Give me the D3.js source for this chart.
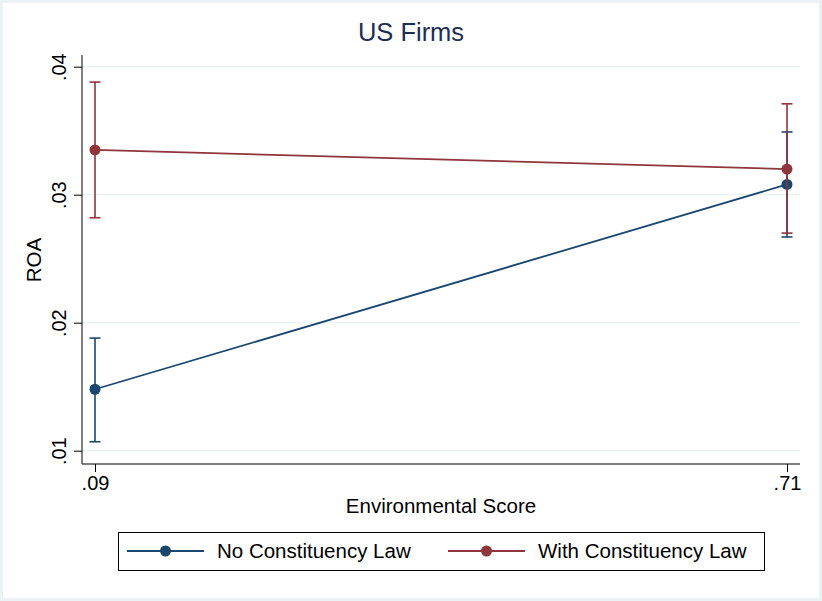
<!DOCTYPE html>
<html>
<head>
<meta charset="utf-8">
<script src="https://cdn.jsdelivr.net/npm/d3@7"></script>
<style>
  body { margin: 0; background: #fff; }
  text { font-family: "Liberation Sans", Arial, sans-serif; }
</style>
</head>
<body>
<div id="chart"></div>
<script>
// Data
const xValues = [0.09, 0.71];
const xTickLabels = [".09", ".71"];
const yTicks = [0.01, 0.02, 0.03, 0.04];
const yTickLabels = [".01", ".02", ".03", ".04"];
const seriesNames = ["No Constituency Law", "With Constituency Law"];
const noLawMean = [0.0148, 0.0308];
const noLawLow = [0.0107, 0.0267];
const noLawHigh = [0.0188, 0.0349];
const withLawMean = [0.0335, 0.0320];
const withLawLow = [0.0282, 0.0270];
const withLawHigh = [0.0388, 0.0371];
const colors = ["#1a476f", "#90353b"];

const width = 822, height = 601;

const svg = d3.select("#chart")
    .append("svg")
    .attr("width", width)
    .attr("height", height);

// Outer frame
svg.append("rect")
    .attr("x", 1.5).attr("y", 1.5)
    .attr("width", width - 3).attr("height", height - 3)
    .attr("fill", "#fff")
    .attr("stroke", "#eaf2f3")
    .attr("stroke-width", 3);

// Scales
const xScale = d3.scaleLinear().domain([0.09, 0.71]).range([95, 787]);
const yScale = d3.scaleLinear().domain([0.01, 0.04]).range([450.7, 66.7]);
const plotLeft = 82, plotRight = 800, plotTop = 55, plotBottom = 464;

// Gridlines
svg.append("g")
    .selectAll("line")
    .data(yTicks)
    .enter()
    .append("line")
    .attr("x1", plotLeft + 1)
    .attr("x2", plotRight)
    .attr("y1", d => yScale(d))
    .attr("y2", d => yScale(d))
    .attr("stroke", "#eaf2f3")
    .attr("stroke-width", 1.2);

// Y axis
const yAxis = d3.axisLeft(yScale)
    .tickValues(yTicks)
    .tickFormat((d, i) => yTickLabels[i])
    .tickSize(8)
    .tickSizeOuter(0);

const yG = svg.append("g")
    .attr("transform", "translate(" + plotLeft + ",0)")
    .call(yAxis);
yG.select(".domain").remove();
yG.append("line")
    .attr("x1", 0).attr("x2", 0)
    .attr("y1", plotTop).attr("y2", plotBottom)
    .attr("stroke", "#000");
yG.selectAll(".tick line").attr("stroke", "#000");
yG.selectAll(".tick text")
    .attr("fill", "#000")
    .style("font-size", "20px")
    .attr("text-anchor", "middle")
    .attr("x", 0)
    .attr("y", 0)
    .attr("dy", 0)
    .attr("transform", "translate(-16,0) rotate(-90)");

// X axis
const xAxis = d3.axisBottom(xScale)
    .tickValues(xValues)
    .tickFormat((d, i) => xTickLabels[i])
    .tickSize(8)
    .tickSizeOuter(0);

const xG = svg.append("g")
    .attr("transform", "translate(0," + plotBottom + ")")
    .call(xAxis);
xG.select(".domain").remove();
xG.append("line")
    .attr("x1", plotLeft).attr("x2", plotRight)
    .attr("y1", 0).attr("y2", 0)
    .attr("stroke", "#000");
xG.selectAll(".tick line").attr("stroke", "#000");
xG.selectAll(".tick text")
    .attr("fill", "#000")
    .style("font-size", "20px")
    .attr("y", 12);

// Axis titles
svg.append("text")
    .attr("text-anchor", "middle")
    .attr("x", 441)
    .attr("y", 513)
    .style("font-size", "20.5px")
    .text("Environmental Score");

svg.append("text")
    .attr("text-anchor", "middle")
    .attr("transform", "translate(41,260) rotate(-90)")
    .style("font-size", "20.5px")
    .text("ROA");

// Title
svg.append("text")
    .attr("text-anchor", "middle")
    .attr("x", 411)
    .attr("y", 41)
    .attr("fill", "#1e2d53")
    .style("font-size", "25.5px")
    .text("US Firms");

// Series
const series = [
    { mean: noLawMean, low: noLawLow, high: noLawHigh, color: colors[0] },
    { mean: withLawMean, low: withLawLow, high: withLawHigh, color: colors[1] }
];

const line = d3.line()
    .x(d => xScale(d.x))
    .y(d => yScale(d.y));

series.forEach(s => {
    const pts = xValues.map((x, i) => ({ x: x, y: s.mean[i], lo: s.low[i], hi: s.high[i] }));
    const g = svg.append("g");

    // Error bars
    g.selectAll(".ci")
        .data(pts)
        .enter()
        .append("line")
        .attr("x1", d => xScale(d.x)).attr("x2", d => xScale(d.x))
        .attr("y1", d => yScale(d.lo)).attr("y2", d => yScale(d.hi))
        .attr("stroke", s.color)
        .attr("stroke-width", 1.6);

    ["lo", "hi"].forEach(k => {
        g.selectAll(".cap-" + k)
            .data(pts)
            .enter()
            .append("line")
            .attr("x1", d => xScale(d.x) - 5.5).attr("x2", d => xScale(d.x) + 5.5)
            .attr("y1", d => yScale(d[k])).attr("y2", d => yScale(d[k]))
            .attr("stroke", s.color)
            .attr("stroke-width", 1.6);
    });

    g.append("path")
        .datum(pts)
        .attr("d", line)
        .attr("fill", "none")
        .attr("stroke", s.color)
        .attr("stroke-width", 1.8);

    g.selectAll("circle")
        .data(pts)
        .enter()
        .append("circle")
        .attr("cx", d => xScale(d.x))
        .attr("cy", d => yScale(d.y))
        .attr("r", 5.5)
        .attr("fill", s.color);
});

// Legend
const legend = svg.append("g");
legend.append("rect")
    .attr("x", 118.5).attr("y", 532.5)
    .attr("width", 646).attr("height", 38)
    .attr("fill", "#fff")
    .attr("stroke", "#000")
    .attr("stroke-width", 1);

const legendX = [127, 448];
seriesNames.forEach((name, i) => {
    const x0 = legendX[i];
    legend.append("line")
        .attr("x1", x0).attr("x2", x0 + 77)
        .attr("y1", 551).attr("y2", 551)
        .attr("stroke", colors[i])
        .attr("stroke-width", 1.8);
    legend.append("circle")
        .attr("cx", x0 + 38.5).attr("cy", 551)
        .attr("r", 5.5)
        .attr("fill", colors[i]);
    legend.append("text")
        .attr("x", x0 + 90)
        .attr("y", 558)
        .style("font-size", "20.5px")
        .text(name);
});
</script>
</body>
</html>
